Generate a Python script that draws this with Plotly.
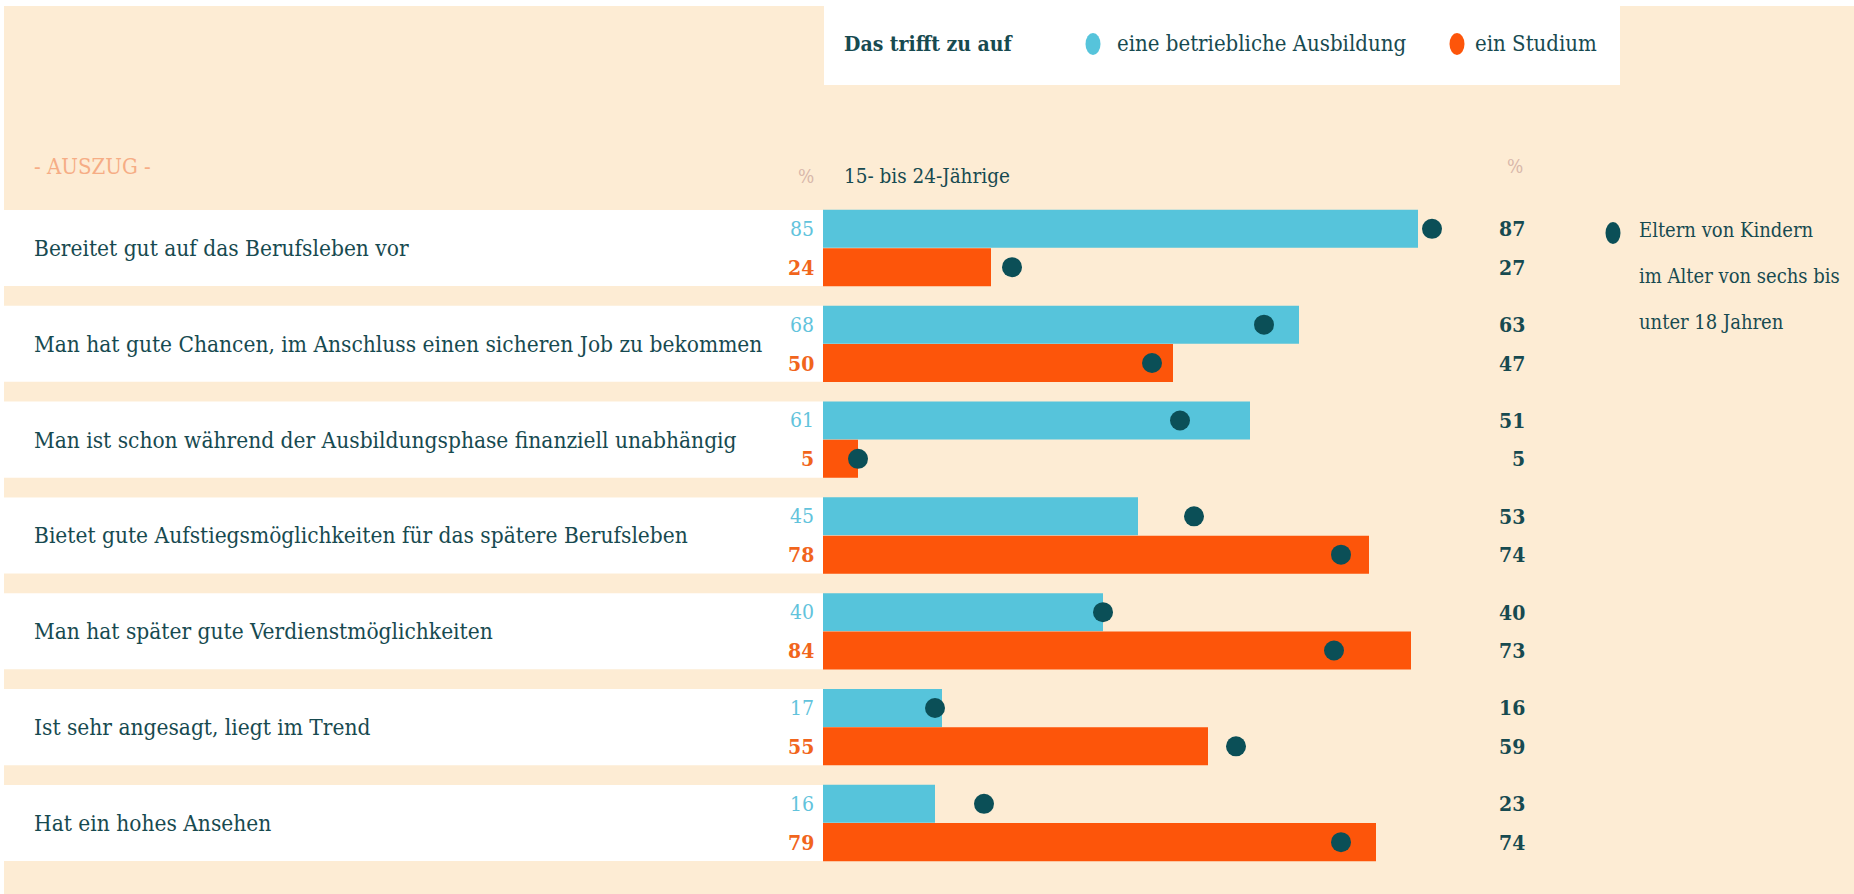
import plotly.graph_objects as go

# ---------------- data ----------------
categories = [
    "Bereitet gut auf das Berufsleben vor",
    "Man hat gute Chancen, im Anschluss einen sicheren Job zu bekommen",
    "Man ist schon während der Ausbildungsphase finanziell unabhängig",
    "Bietet gute Aufstiegsmöglichkeiten für das spätere Berufsleben",
    "Man hat später gute Verdienstmöglichkeiten",
    "Ist sehr angesagt, liegt im Trend",
    "Hat ein hohes Ansehen",
]
ausbildung_jugend = [85, 68, 61, 45, 40, 17, 16]
studium_jugend = [24, 50, 5, 78, 84, 55, 79]
ausbildung_eltern = [87, 63, 51, 53, 40, 16, 23]
studium_eltern = [27, 47, 5, 74, 73, 59, 74]

series_names = ["eine betriebliche Ausbildung", "ein Studium"]
legend_title = "Das trifft zu auf"
group_label = "15- bis 24-Jährige"
eltern_label = ["Eltern von Kindern", "im Alter von sechs bis", "unter 18 Jahren"]
excerpt_label = "- AUSZUG -"

# ---------------- style ----------------
W, H = 1854, 894
BEIGE = "#FDECD4"
BLUE = "#56C4DB"
ORANGE = "#FD550A"
TEAL = "#0B4F57"
TEXT = "#174A50"
BLUE_TXT = "#62C3DC"
ORANGE_TXT = "#F1651C"
PCT = "#D8B7AA"
FONT = "DejaVu Serif Condensed, DejaVu Serif, serif"

X0_PX = 823          # pixel of value 0
PX_PER_UNIT = 7.0
ROW0_PX = 248        # centre of first row
ROW_STEP = 95.83
HALF = 0.2           # offset of each bar from row centre
BAR_W = 0.397

xr = [-X0_PX / PX_PER_UNIT, (W - X0_PX) / PX_PER_UNIT]
yr = [(H - ROW0_PX) / ROW_STEP, -ROW0_PX / ROW_STEP]

rows = list(range(len(categories)))
y_top = [r - HALF for r in rows]
y_bot = [r + HALF for r in rows]

def px(x):
    return x / W

def py(y):
    return 1 - y / H

fig = go.Figure()

fig.add_trace(go.Bar(x=ausbildung_jugend, y=y_top, orientation="h", width=BAR_W,
                     marker=dict(color=BLUE, line=dict(width=0)), name=series_names[0],
                     hoverinfo="x"))
fig.add_trace(go.Bar(x=studium_jugend, y=y_bot, orientation="h", width=BAR_W,
                     marker=dict(color=ORANGE, line=dict(width=0)), name=series_names[1],
                     hoverinfo="x"))
fig.add_trace(go.Scatter(x=ausbildung_eltern + studium_eltern, y=y_top + y_bot, mode="markers",
                         marker=dict(color=TEAL, size=20, line=dict(width=0)),
                         name="Eltern", hoverinfo="x"))

shapes = []
# beige background with a thin white border top/left
shapes.append(dict(type="rect", xref="paper", yref="paper", x0=px(4), x1=1, y0=0, y1=py(6),
                   fillcolor=BEIGE, line=dict(width=0), layer="below"))
# white label bands
for r in rows:
    shapes.append(dict(type="rect", xref="paper", yref="y", x0=px(4), x1=px(X0_PX),
                       y0=r - 2 * HALF + 0.003, y1=r + 2 * HALF - 0.003,
                       fillcolor="white", line=dict(width=0), layer="below"))
# legend box
shapes.append(dict(type="rect", xref="paper", yref="paper", x0=px(824), x1=px(1620),
                   y0=py(85), y1=py(6), fillcolor="white", line=dict(width=0), layer="below"))
# legend dots (ovals)
for cx, cy, col in [(1093, 44, BLUE), (1457, 44, ORANGE), (1613, 233, TEAL)]:
    shapes.append(dict(type="circle", xref="paper", yref="paper",
                       x0=px(cx - 7.5), x1=px(cx + 7.5), y0=py(cy + 11), y1=py(cy - 11),
                       fillcolor=col, line=dict(width=0), layer="above"))

ann = []
def text(x, y, s, size, color, xanchor="left", xref="paper", yref="paper", bold=False):
    ann.append(dict(x=x, y=y, xref=xref, yref=yref, text=f"<b>{s}</b>" if bold else s,
                    showarrow=False, xanchor=xanchor, yanchor="middle",
                    font=dict(family=FONT, size=size, color=color)))

# legend header
text(px(842), py(44), legend_title, 21, TEXT, bold=True)
text(px(1115), py(44), series_names[0], 22, TEXT)
text(px(1473), py(44), series_names[1], 22, TEXT)
# column headers
text(px(32), py(166), excerpt_label, 22, "#F6AD85")
text(px(816), py(176), "%", 19, PCT, xanchor="right")
text(px(842), py(176), group_label, 20.5, TEXT)
text(px(1515), py(166), "%", 19, PCT, xanchor="center")
# eltern legend
for i, line in enumerate(eltern_label):
    text(px(1637), py(230 + i * 46), line, 20, TEXT)

for r, cat in zip(rows, categories):
    text(px(32), r, cat, 22.5, TEXT, yref="y")
for r, a, s, ae, se in zip(rows, ausbildung_jugend, studium_jugend, ausbildung_eltern, studium_eltern):
    text(-1, r - HALF, str(a), 21, BLUE_TXT, xanchor="right", xref="x", yref="y")
    text(-1, r + HALF, str(s), 21, ORANGE_TXT, xanchor="right", xref="x", yref="y", bold=True)
    text(100.6, r - HALF, str(ae), 21, TEXT, xanchor="right", xref="x", yref="y", bold=True)
    text(100.6, r + HALF, str(se), 21, TEXT, xanchor="right", xref="x", yref="y", bold=True)

fig.update_layout(
    width=W, height=H, margin=dict(l=0, r=0, t=0, b=0, pad=0),
    paper_bgcolor="white", plot_bgcolor="rgba(0,0,0,0)",
    barmode="overlay", showlegend=False,
    xaxis=dict(range=xr, visible=False, fixedrange=True),
    yaxis=dict(range=yr, visible=False, fixedrange=True),
    shapes=shapes, annotations=ann,
    font=dict(family=FONT),
)

fig.write_html("out.html", config={"displayModeBar": False},
               post_script="document.body.style.margin='0';document.body.style.overflow='hidden';"
                           "document.documentElement.style.overflow='hidden';"
                           "document.body.style.height='894px';")
